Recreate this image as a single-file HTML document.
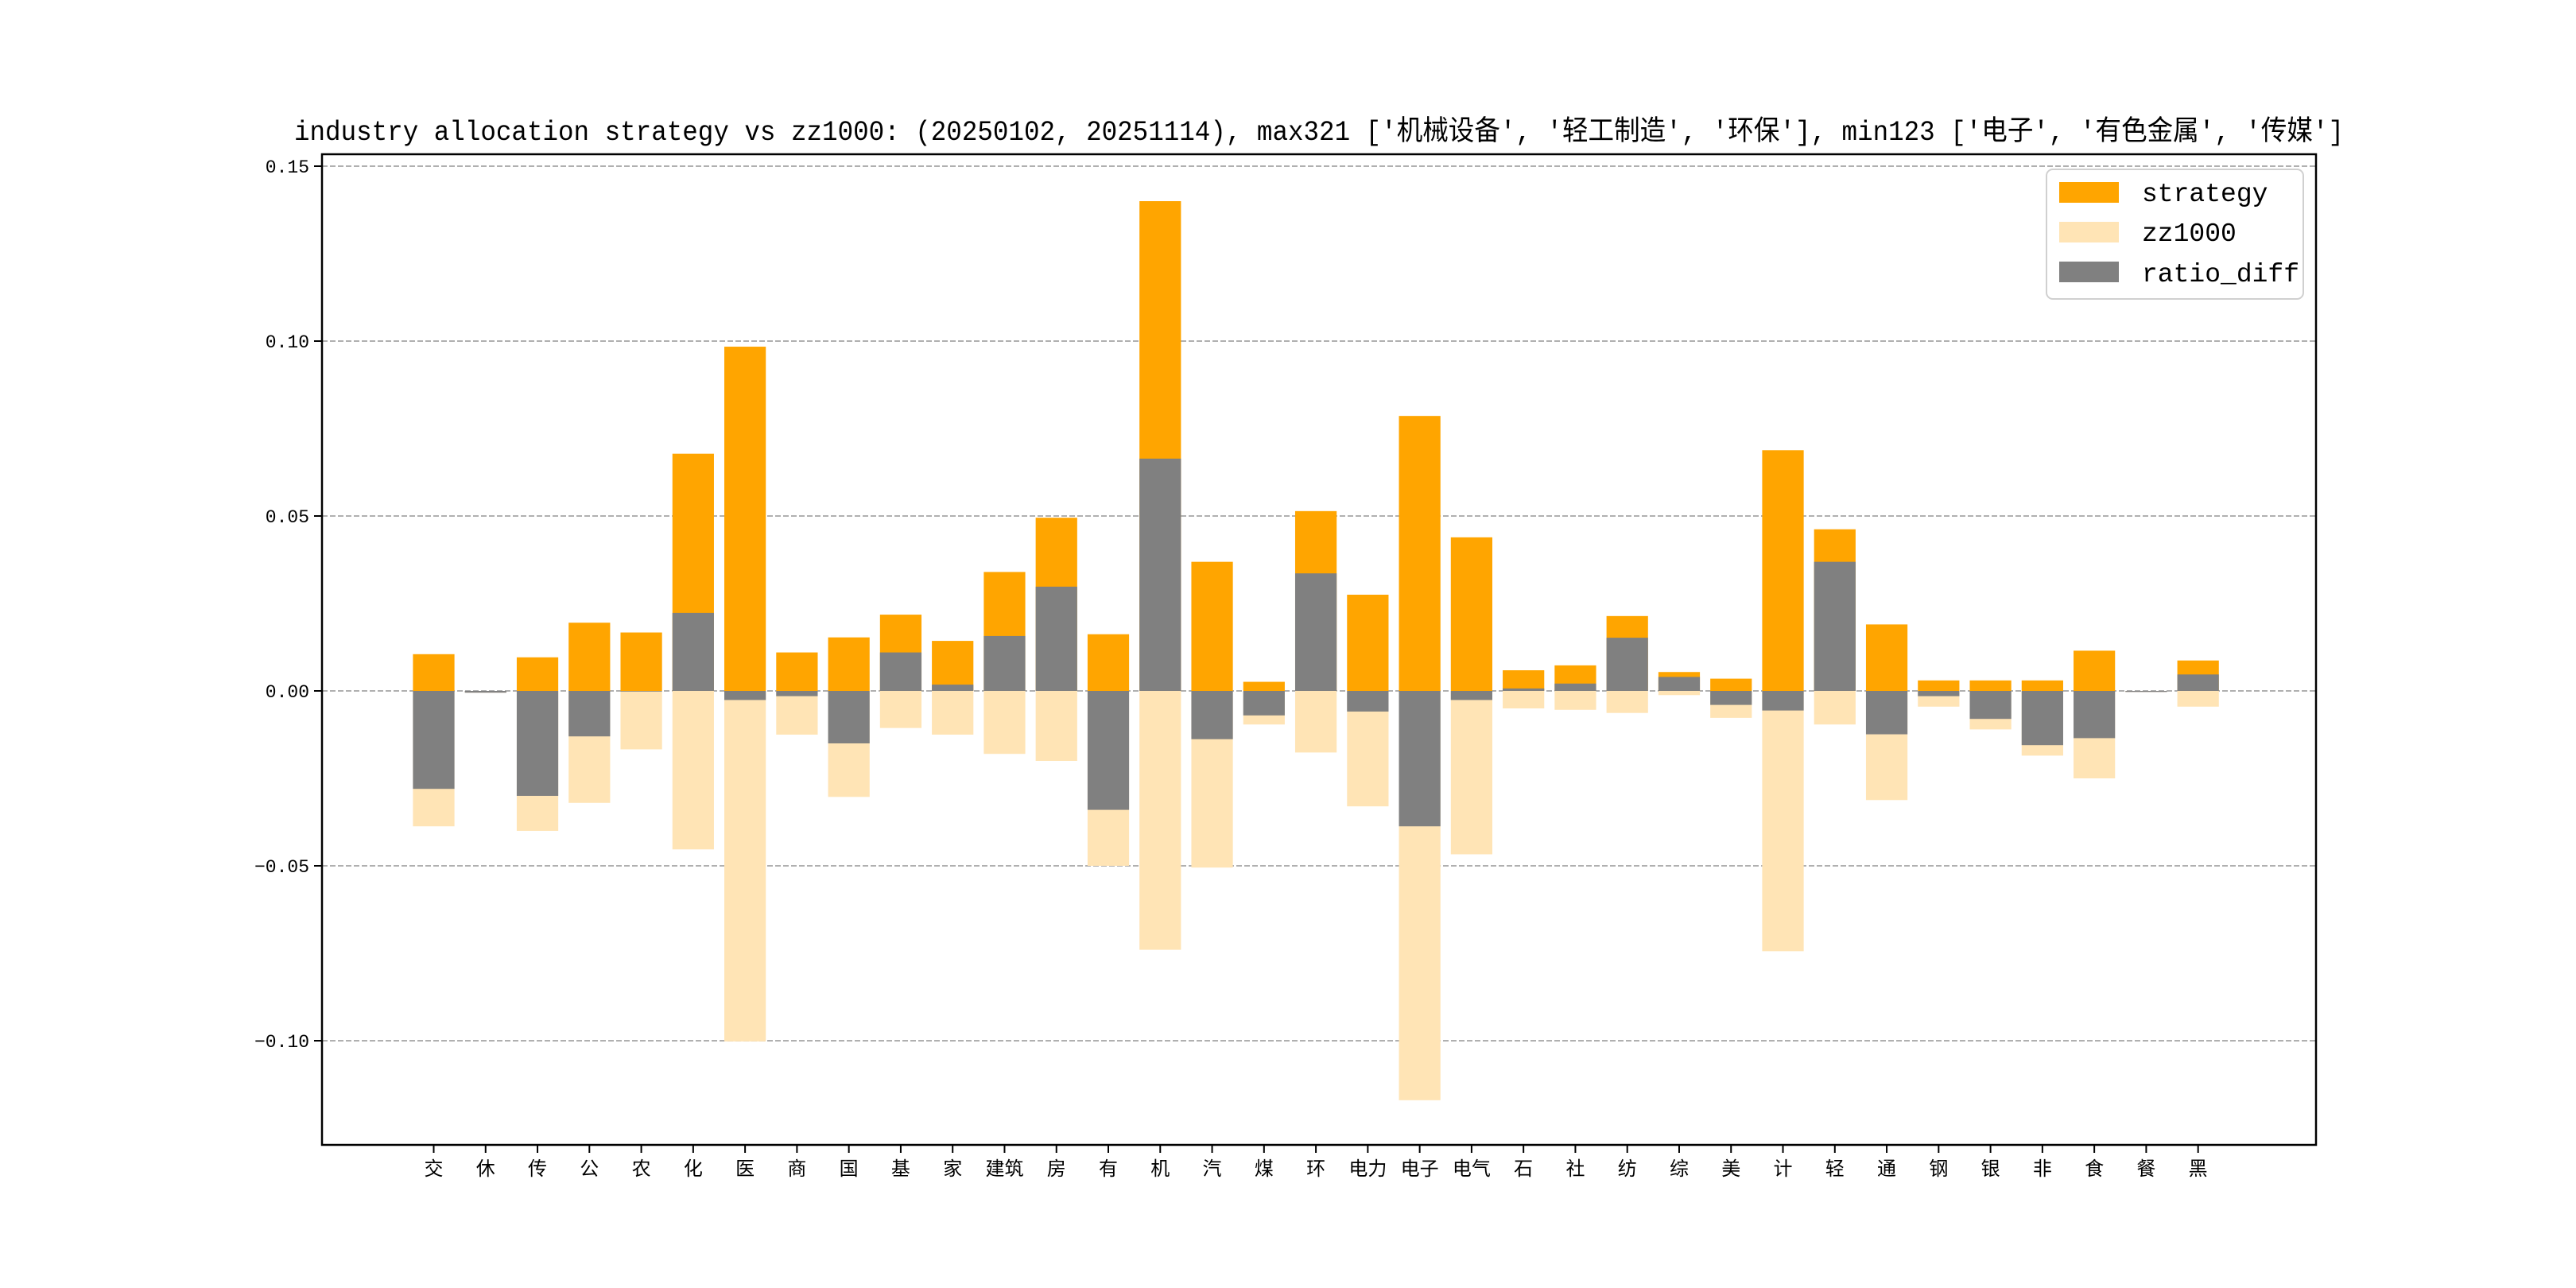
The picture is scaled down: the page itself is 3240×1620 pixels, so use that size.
<!DOCTYPE html>
<html><head><meta charset="utf-8"><style>
html,body{margin:0;padding:0;background:#fff;}
svg{display:block;font-family:"Liberation Mono","Noto Sans CJK SC",monospace;}
</style></head><body>
<svg id="chart" width="3240" height="1620" viewBox="0 0 3240 1620" xmlns="http://www.w3.org/2000/svg">
<rect width="3240" height="1620" fill="#fff"/>
<text x="1659" y="176" font-size="35" text-anchor="middle" textLength="2578" lengthAdjust="spacingAndGlyphs">industry allocation strategy vs zz1000: (20250102, 20251114), max321 ['机械设备', '轻工制造', '环保'], min123 ['电子', '有色金属', '传媒']</text>
<g id="grid"></g>
<g id="bars"></g>
<g id="axes"></g>
<g>
<rect x="2574" y="213" width="323" height="163" rx="8" fill="#fff" fill-opacity="0.8" stroke="#d0d0d0" stroke-width="2"/>
<rect x="2590" y="229" width="75" height="26" fill="#ffa500"/>
<text x="2694" y="253" font-size="33">strategy</text>
<rect x="2590" y="279" width="75" height="26" fill="#ffe4b5"/>
<text x="2694" y="303" font-size="33">zz1000</text>
<rect x="2590" y="329" width="75" height="26" fill="#808080"/>
<text x="2694" y="354" font-size="33">ratio_diff</text>
</g>
</svg>
<script>
const categories = ["交","休","传","公","农","化","医","商","国","基","家","建筑","房","有","机","汽","煤","环","电力","电子","电气","石","社","纺","综","美","计","轻","通","钢","银","非","食","餐","黑"];
const strategy = [0.0105,0.0,0.0096,0.0195,0.0167,0.0678,0.0984,0.011,0.0153,0.0218,0.0143,0.034,0.0495,0.0162,0.140,0.0369,0.0026,0.0514,0.0275,0.0786,0.0439,0.0059,0.0073,0.0214,0.0054,0.0035,0.0688,0.0462,0.019,0.003,0.003,0.003,0.0115,0.0,0.0087];
const zz1000 = [0.0387,0.0005,0.040,0.032,0.0167,0.0453,0.1002,0.0125,0.0303,0.0106,0.0125,0.018,0.020,0.050,0.074,0.0505,0.0096,0.0176,0.033,0.117,0.0467,0.005,0.0054,0.0063,0.0012,0.0077,0.0744,0.0096,0.0312,0.0045,0.011,0.0185,0.025,0.0003,0.0045];
const ratioDiff = [-0.028,-0.0005,-0.030,-0.013,0.0,0.0223,-0.0026,-0.0015,-0.015,0.011,0.0018,0.0157,0.0298,-0.034,0.0664,-0.0138,-0.007,0.0336,-0.0059,-0.0387,-0.0026,0.0007,0.0021,0.0152,0.004,-0.004,-0.0056,0.0369,-0.0124,-0.0015,-0.008,-0.0155,-0.0135,-0.0003,0.0047];
const yTicks = [-0.10,-0.05,0.00,0.05,0.10,0.15];
const yTickLabels = ["−0.10","−0.05","0.00","0.05","0.10","0.15"];

const NS="http://www.w3.org/2000/svg";
const L=405,R=2913,T=194,B=1440;
const zeroY=869, perUnit=220.0/0.05;
const x0=545.5, step=65.27;
function xScale(i){return x0+i*step;}
function yScale(v){return zeroY-v*perUnit;}
function mk(tag,attrs,parent){const e=document.createElementNS(NS,tag);for(const k in attrs)e.setAttribute(k,attrs[k]);parent.appendChild(e);return e;}
const grid=document.getElementById('grid'),bars=document.getElementById('bars'),axes=document.getElementById('axes');
yTicks.forEach((v,i)=>{
  const y=yScale(v);
  const g=mk('line',{x1:L,x2:R,y1:y,y2:y,stroke:'#b0b0b0','stroke-width':2,'stroke-dasharray':'7,3'},grid);
  
  
  const t=mk('line',{x1:L-10,x2:L,y1:y,y2:y,stroke:'#000','stroke-width':2},axes);
  
  
  const lb=mk('text',{x:L-16,y:y+8,'font-size':23,'text-anchor':'end'},axes);
  lb.textContent=yTickLabels[i];
  
  
});
const bw=0.8*step;
function bar(v,i,fill,name){
  const y1=yScale(Math.max(v,0)),y2=yScale(Math.min(v,0));
  const r=mk('rect',{x:xScale(i)-bw/2,y:y1,width:bw,height:Math.max(y2-y1,0.8),fill:fill},bars);
  
  
}
categories.forEach((c,i)=>{
  bar(strategy[i],i,'#ffa500','bar-strategy');
  bar(-zz1000[i],i,'#ffe4b5','bar-zz1000');
  bar(ratioDiff[i],i,'#808080','bar-ratio-diff');
  const x=xScale(i);
  const t=mk('line',{x1:x,x2:x,y1:B,y2:B+10,stroke:'#000','stroke-width':2},axes);
  
  
  const lb=mk('text',{x:x,y:B+38,'font-size':24,'text-anchor':'middle'},axes);
  lb.textContent=c;
  
  
});
const fr=mk('rect',{x:L,y:T,width:R-L,height:B-T,fill:'none',stroke:'#000','stroke-width':2.5},axes);


</script>
</body></html>
